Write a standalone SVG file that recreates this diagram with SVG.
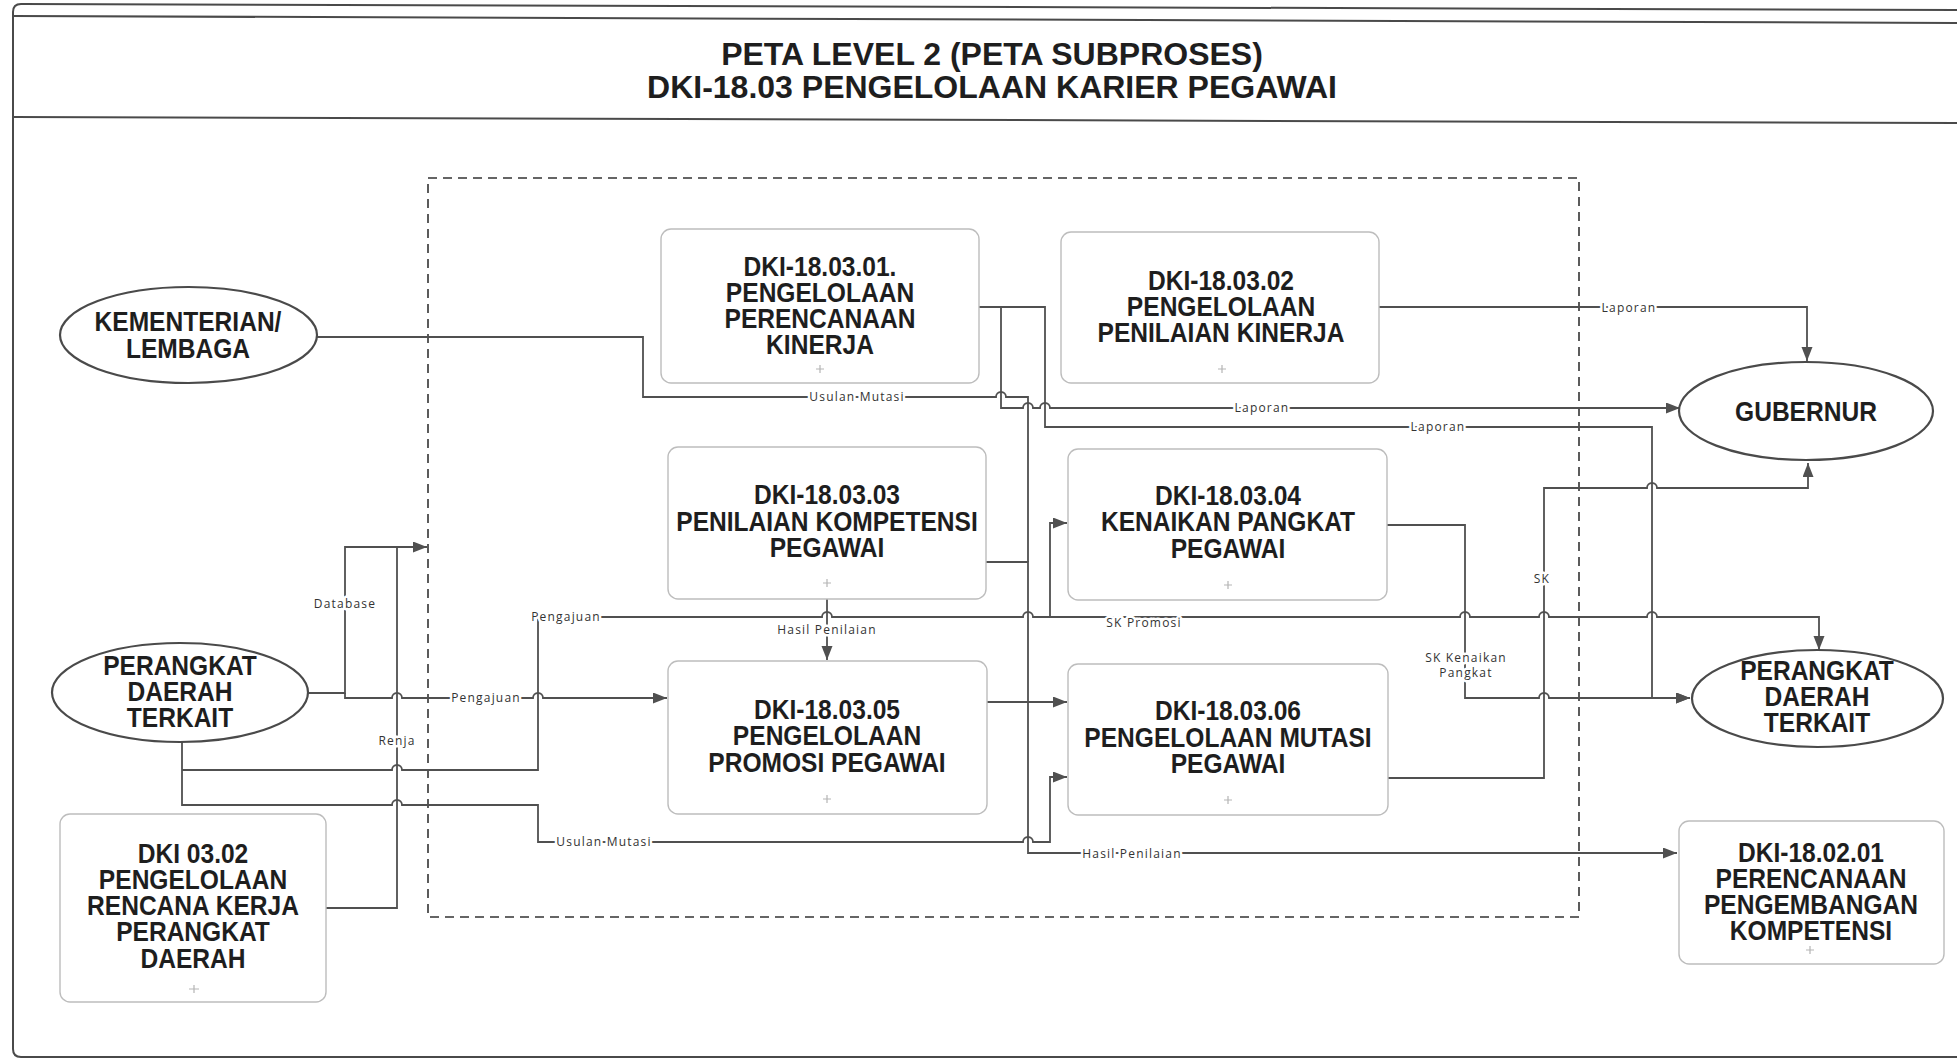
<svg xmlns="http://www.w3.org/2000/svg" width="1957" height="1059" viewBox="0 0 1957 1059">
<defs>
<marker id="arr" markerUnits="userSpaceOnUse" markerWidth="16" markerHeight="12" refX="14" refY="5.5" orient="auto">
<path d="M0,0 L14,5.5 L0,11 z" fill="#505050"/>
</marker>
<style>
.frame{fill:none;stroke:#4a4a4a;stroke-width:2}
.title{font-family:"Liberation Sans",Arial,sans-serif;font-weight:bold;font-size:32px;fill:#1e1e1e;text-anchor:middle}
.box{fill:#fff;stroke:#bdbdbd;stroke-width:1.4}
.ell{fill:#fff;stroke:#4a4a4a;stroke-width:2.2}
.nt{font-family:"Liberation Sans",Arial,sans-serif;font-weight:bold;font-size:27px;fill:#1e1e1e;text-anchor:middle}
.plus{stroke:#b5b5b5;stroke-width:1.2}
.dash{fill:none;stroke:#333;stroke-width:1.6;stroke-dasharray:9 6}
.cn{fill:none;stroke:#505050;stroke-width:1.8}
.lbl{font-family:"Open Sans","Liberation Sans",sans-serif;font-size:12px;letter-spacing:1.2px;fill:#333;text-anchor:middle;paint-order:stroke;stroke:#fff;stroke-width:5px;stroke-linejoin:round}
</style>
</defs>
<rect width="1957" height="1059" fill="#fff"/>

<g id="frame">
<path class="frame" d="M13,1049 V12 Q13,4 21,4 L1957,10"/>
<path class="frame" d="M13,16 L1957,23"/>
<path class="frame" d="M13,117 L1957,123"/>
<path class="frame" d="M13,1049 Q13,1057 21,1057 L1957,1057"/>
<text class="title" x="992" y="65">PETA LEVEL 2 (PETA SUBPROSES)</text>
<text class="title" x="992" y="98">DKI-18.03 PENGELOLAAN KARIER PEGAWAI</text>
</g>

<rect id="boundary" class="dash" x="428" y="178" width="1151" height="739"/>

<g id="connectors">
<path class="cn" d="M317,337 H643 V397 H996 a5,5 0 0 1 10,0 H1028 V562"/>
<path class="cn" d="M986,562 H1028 V853 H1677" marker-end="url(#arr)"/>
<path class="cn" d="M979,307 H1045 V427 H1652 V698 H1690" marker-end="url(#arr)"/>
<path class="cn" d="M1001,307 V408 H1023 a5,5 0 0 1 10,0 H1040 a5,5 0 0 1 10,0 H1680" marker-end="url(#arr)"/>
<path class="cn" d="M1379,307 H1807 V361" marker-end="url(#arr)"/>
<path class="cn" d="M827,599 V660" marker-end="url(#arr)"/>
<path class="cn" d="M308,693 H345 V547 H427" marker-end="url(#arr)"/>
<path class="cn" d="M326,908 H397 V547"/>
<path class="cn" d="M345,693 V698 H392 a5,5 0 0 1 10,0 H533 a5,5 0 0 1 10,0 H667" marker-end="url(#arr)"/>
<path class="cn" d="M182,742 V805 H392 a5,5 0 0 1 10,0 H538 V842 H1023 a5,5 0 0 1 10,0 H1050 V777 H1067" marker-end="url(#arr)"/>
<path class="cn" d="M182,770 H392 a5,5 0 0 1 10,0 H538 V617 H822 a5,5 0 0 1 10,0 H1023 a5,5 0 0 1 10,0 H1050 V523 H1067" marker-end="url(#arr)"/>
<path class="cn" d="M1050,617 H1460 a5,5 0 0 1 10,0 H1539 a5,5 0 0 1 10,0 H1647 a5,5 0 0 1 10,0 H1819 V650" marker-end="url(#arr)"/>
<path class="cn" d="M987,702 H1067" marker-end="url(#arr)"/>
<path class="cn" d="M1387,525 H1465 V698 H1539 a5,5 0 0 1 10,0 H1690" marker-end="url(#arr)"/>
<path class="cn" d="M1388,778 H1544 V488 H1647 a5,5 0 0 1 10,0 H1808 V463" marker-end="url(#arr)"/>

<text class="lbl" x="857" y="401">Usulan Mutasi</text>
<text class="lbl" x="1262" y="412">Laporan</text>
<text class="lbl" x="1438" y="431">Laporan</text>
<text class="lbl" x="1629" y="312">Laporan</text>
<text class="lbl" x="345" y="608">Database</text>
<text class="lbl" x="397" y="745">Renja</text>
<text class="lbl" x="486" y="702">Pengajuan</text>
<text class="lbl" x="566" y="621">Pengajuan</text>
<text class="lbl" x="604" y="846">Usulan Mutasi</text>
<text class="lbl" x="827" y="634">Hasil Penilaian</text>
<text class="lbl" x="1144" y="627">SK Promosi</text>
<text class="lbl" x="1132" y="858">Hasil Penilaian</text>
<text class="lbl" x="1542" y="583">SK</text>
<text class="lbl" x="1466" y="662">SK Kenaikan</text>
<text class="lbl" x="1466" y="677">Pangkat</text>
</g>

<g id="n-kementerian">
<ellipse class="ell" cx="188.5" cy="335" rx="128.5" ry="48"/>
<text class="nt" transform="translate(188,0) scale(0.91,1)"><tspan x="0" y="331">KEMENTERIAN/</tspan><tspan x="0" y="358">LEMBAGA</tspan></text>
</g>

<g id="n-perangkat-kiri">
<ellipse class="ell" cx="180" cy="692.5" rx="128" ry="49.5"/>
<text class="nt" transform="translate(180,0) scale(0.91,1)"><tspan x="0" y="675">PERANGKAT</tspan><tspan x="0" y="701">DAERAH</tspan><tspan x="0" y="727">TERKAIT</tspan></text>
</g>

<g id="n-gubernur">
<ellipse class="ell" cx="1806" cy="411" rx="127" ry="49"/>
<text class="nt" transform="translate(1806,0) scale(0.91,1)"><tspan x="0" y="421">GUBERNUR</tspan></text>
</g>

<g id="n-perangkat-kanan">
<ellipse class="ell" cx="1817.5" cy="698.5" rx="125.5" ry="48.5"/>
<text class="nt" transform="translate(1817,0) scale(0.91,1)"><tspan x="0" y="680">PERANGKAT</tspan><tspan x="0" y="706">DAERAH</tspan><tspan x="0" y="732">TERKAIT</tspan></text>
</g>

<g id="n-18-03-01">
<rect class="box" x="661" y="229" width="318" height="154" rx="10"/>
<text class="nt" transform="translate(820,0) scale(0.91,1)"><tspan x="0" y="276">DKI-18.03.01.</tspan><tspan x="0" y="302">PENGELOLAAN</tspan><tspan x="0" y="328">PERENCANAAN</tspan><tspan x="0" y="354">KINERJA</tspan></text>
<path class="plus" d="M816,369 h8 M820,365 v8"/>
</g>

<g id="n-18-03-02">
<rect class="box" x="1061" y="232" width="318" height="151" rx="10"/>
<text class="nt" transform="translate(1221,0) scale(0.91,1)"><tspan x="0" y="290">DKI-18.03.02</tspan><tspan x="0" y="316">PENGELOLAAN</tspan><tspan x="0" y="342">PENILAIAN KINERJA</tspan></text>
<path class="plus" d="M1218,369 h8 M1222,365 v8"/>
</g>

<g id="n-18-03-03">
<rect class="box" x="668" y="447" width="318" height="152" rx="10"/>
<text class="nt" transform="translate(827,0) scale(0.91,1)"><tspan x="0" y="504">DKI-18.03.03</tspan><tspan x="0" y="531">PENILAIAN KOMPETENSI</tspan><tspan x="0" y="557">PEGAWAI</tspan></text>
<path class="plus" d="M823,583 h8 M827,579 v8"/>
</g>

<g id="n-18-03-04">
<rect class="box" x="1068" y="449" width="319" height="151" rx="10"/>
<text class="nt" transform="translate(1228,0) scale(0.91,1)"><tspan x="0" y="505">DKI-18.03.04</tspan><tspan x="0" y="531">KENAIKAN PANGKAT</tspan><tspan x="0" y="558">PEGAWAI</tspan></text>
<path class="plus" d="M1224,585 h8 M1228,581 v8"/>
</g>

<g id="n-18-03-05">
<rect class="box" x="668" y="661" width="319" height="153" rx="10"/>
<text class="nt" transform="translate(827,0) scale(0.91,1)"><tspan x="0" y="719">DKI-18.03.05</tspan><tspan x="0" y="745">PENGELOLAAN</tspan><tspan x="0" y="772">PROMOSI PEGAWAI</tspan></text>
<path class="plus" d="M823,799 h8 M827,795 v8"/>
</g>

<g id="n-18-03-06">
<rect class="box" x="1068" y="664" width="320" height="151" rx="10"/>
<text class="nt" transform="translate(1228,0) scale(0.91,1)"><tspan x="0" y="720">DKI-18.03.06</tspan><tspan x="0" y="747">PENGELOLAAN MUTASI</tspan><tspan x="0" y="773">PEGAWAI</tspan></text>
<path class="plus" d="M1224,800 h8 M1228,796 v8"/>
</g>

<g id="n-dki-03-02">
<rect class="box" x="60" y="814" width="266" height="188" rx="10"/>
<text class="nt" transform="translate(193,0) scale(0.91,1)"><tspan x="0" y="863">DKI 03.02</tspan><tspan x="0" y="889">PENGELOLAAN</tspan><tspan x="0" y="915">RENCANA KERJA</tspan><tspan x="0" y="941">PERANGKAT</tspan><tspan x="0" y="968">DAERAH</tspan></text>
<path class="plus" d="M189,989 h10 M194,985 v8"/>
</g>

<g id="n-18-02-01">
<rect class="box" x="1679" y="821" width="265" height="143" rx="10"/>
<text class="nt" transform="translate(1811,0) scale(0.91,1)"><tspan x="0" y="862">DKI-18.02.01</tspan><tspan x="0" y="888">PERENCANAAN</tspan><tspan x="0" y="914">PENGEMBANGAN</tspan><tspan x="0" y="940">KOMPETENSI</tspan></text>
<path class="plus" d="M1806,950 h8 M1810,946 v8"/>
</g>
</svg>
